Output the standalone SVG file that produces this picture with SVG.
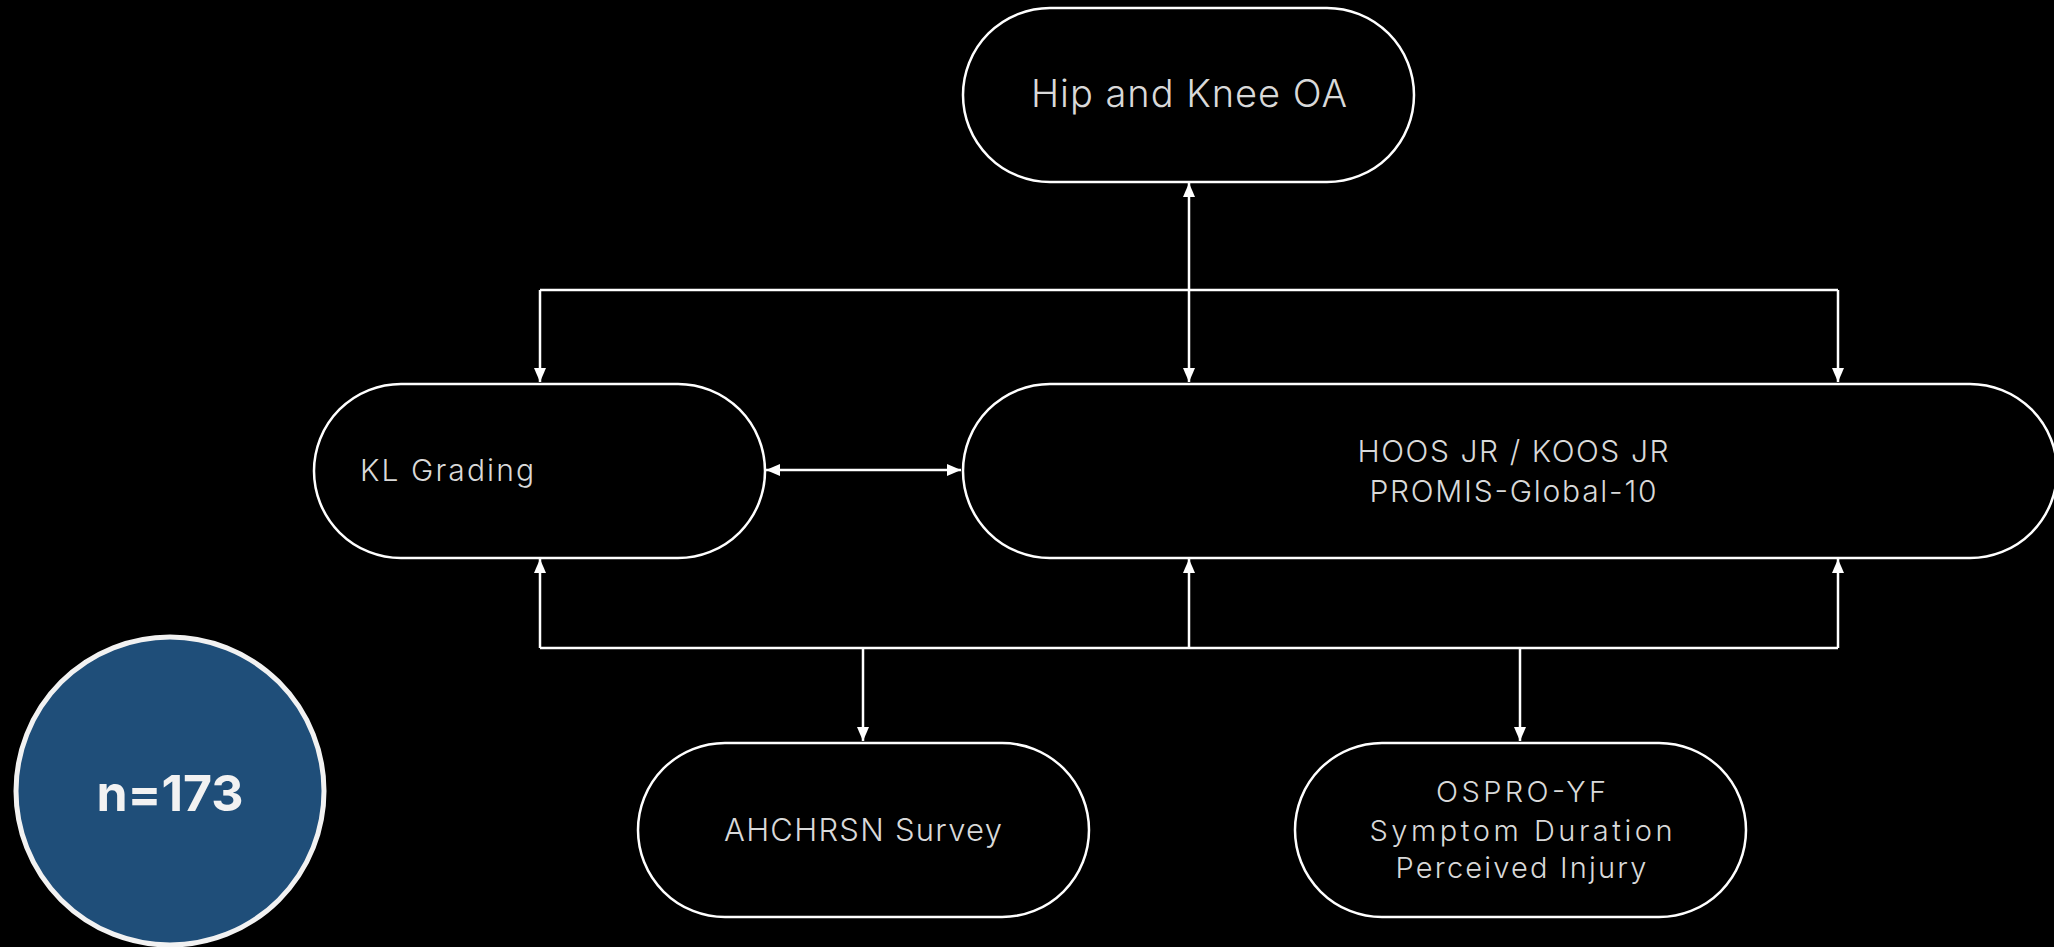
<svg xmlns="http://www.w3.org/2000/svg" width="2054" height="947" viewBox="0 0 2054 947">
<defs>
<marker id="ah" viewBox="0 0 14 12" refX="14" refY="6" markerWidth="14" markerHeight="12" markerUnits="userSpaceOnUse" orient="auto-start-reverse">
<path d="M0,0 L14,6 L0,12 z" fill="#ffffff"/>
</marker>
<style>
.node{fill:#000;stroke:#fff;stroke-width:2.5}
.lbl{font-family:Inter,"Noto Sans",sans-serif;font-weight:300;fill:#d9d9d9;text-anchor:middle}
.ln{fill:none;stroke:#fff;stroke-width:2.5}
.arr{fill:none;stroke:#fff;stroke-width:2.5;marker-end:url(#ah)}
.darr{fill:none;stroke:#fff;stroke-width:2.5;marker-start:url(#ah);marker-end:url(#ah)}
</style>
</defs>
<rect width="2054" height="947" fill="#000"/>
<g id="connectors">
<path class="darr" d="M1189,183 L1189,382"/>
<path class="ln" d="M540,290 L1838,290"/>
<path class="arr" d="M540,290 L540,382"/>
<path class="arr" d="M1838,290 L1838,382"/>
<path class="darr" d="M766,470 L961,470"/>
<path class="ln" d="M540,648 L1838,648"/>
<path class="arr" d="M540,648 L540,559"/>
<path class="arr" d="M1189,648 L1189,559"/>
<path class="arr" d="M1838,648 L1838,559"/>
<path class="arr" d="M863,648 L863,741"/>
<path class="arr" d="M1520,648 L1520,741"/>
</g>
<g id="hip">
<rect class="node" x="963" y="8" width="451" height="174" rx="87"/>
<text class="lbl" x="1189" y="107" font-size="38" textLength="316">Hip and Knee OA</text>
</g>
<g id="kl">
<rect class="node" x="314" y="384" width="451" height="174" rx="87"/>
<text class="lbl" x="447" y="481" font-size="30" textLength="174">KL Grading</text>
</g>
<g id="hoos">
<rect class="node" x="963" y="384" width="1094" height="174" rx="87"/>
<text class="lbl" x="1513" y="462" font-size="30" textLength="311">HOOS JR / KOOS JR</text>
<text class="lbl" x="1513" y="502" font-size="30" textLength="287">PROMIS-Global-10</text>
</g>
<g id="ahchrsn">
<rect class="node" x="638" y="743" width="451" height="174" rx="87"/>
<text class="lbl" x="863" y="841" font-size="31" textLength="278">AHCHRSN Survey</text>
</g>
<g id="ospro">
<rect class="node" x="1295" y="743" width="451" height="174" rx="87"/>
<text class="lbl" x="1521" y="802" font-size="29" textLength="170">OSPRO-YF</text>
<text class="lbl" x="1521" y="841" font-size="29" textLength="303">Symptom Duration</text>
<text class="lbl" x="1521" y="878" font-size="29" textLength="251">Perceived Injury</text>
</g>
<g id="n173">
<circle cx="170" cy="791" r="154" fill="#1f4e79" stroke="#f2f2f2" stroke-width="5"/>
<text x="170" y="811" font-family="Inter, Noto Sans, sans-serif" font-weight="700" font-size="50" fill="#f2f2f2" text-anchor="middle">n=173</text>
</g>
</svg>
